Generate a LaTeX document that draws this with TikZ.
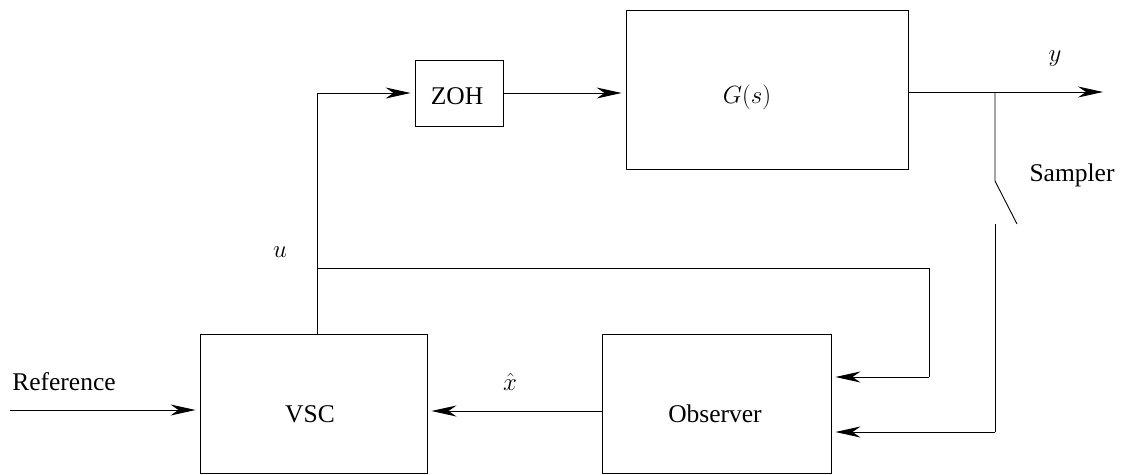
\documentclass[tikz,border=0pt]{standalone}
\usepackage{fontspec}
\setmainfont{Liberation Serif}
\usetikzlibrary{arrows.meta}
\begin{document}
\begin{tikzpicture}[x=1pt,y=-1pt,
  line width=0.9pt,
  blk/.style={draw, rectangle, inner sep=0pt},
  lbl/.style={anchor=base, inner sep=0pt, font=\fontsize{25.5}{30}\selectfont},
  arr/.style={-{Stealth[length=25pt,width=11pt,inset=8pt]}, shorten >=4pt}]
\useasboundingbox (0,0) rectangle (1123,474);
% blocks
\node[blk, minimum width=88pt, minimum height=66pt] (zoh) at (459,93) {};
\node[blk, minimum width=282pt, minimum height=159pt] (plant) at (767,89.5) {};
\node[blk, minimum width=227pt, minimum height=139pt] (vsc) at (313.5,403.5) {};
\node[blk, minimum width=229pt, minimum height=139pt] (obs) at (716.5,403.5) {};
% texts
\node[lbl] (tzoh) at (457,104) {ZOH};
\node[lbl] (tg) at (747,103) {$G(s)$};
\node[lbl] (tvsc) at (310,422) {VSC};
\node[lbl] (tobs) at (715,422) {Observer};
\node[lbl] (tref) at (64,390) {Reference};
\node[lbl] (tsam) at (1072,181) {Sampler};
\node[lbl] (tu) at (280,257) {$u$};
\node[lbl] (ty) at (1055,61) {$y$};
\node[lbl] (tx) at (510,390) {$\hat{x}$};
% coordinates
\coordinate (refin) at (10,410);
\coordinate (ucorner) at (317,93);
\coordinate (ubranch) at (317,268);
\coordinate (ucorner2) at (929,268);
\coordinate (ucorner3) at (929,377);
\coordinate (yend) at (1107,92);
\coordinate (ybranch) at (995,92);
\coordinate (swtop) at (995,181);
\coordinate (swblade) at (1017,224);
\coordinate (swbot) at (995,224);
\coordinate (scorner) at (995,432);
% connectors
\draw[arr] (refin) -- (refin -| vsc.west);
\draw[arr] (vsc.north -| ucorner) -- (ucorner) -- (ucorner -| zoh.west);
\draw[arr] (zoh.east) -- (zoh.east -| plant.west);
\draw[arr] (ybranch -| plant.east) -- (yend);
\draw (ubranch) -- (ucorner2) -- (ucorner3);
\draw[arr] (ucorner3) -- (ucorner3 -| obs.east);
\draw (ybranch) -- (swtop) -- (swblade);
\draw (swbot) -- (scorner);
\draw[arr] (scorner) -- (scorner -| obs.east);
\draw[arr] (obs.west |- 0,411) -- (vsc.east |- 0,411);
\end{tikzpicture}
\end{document}
